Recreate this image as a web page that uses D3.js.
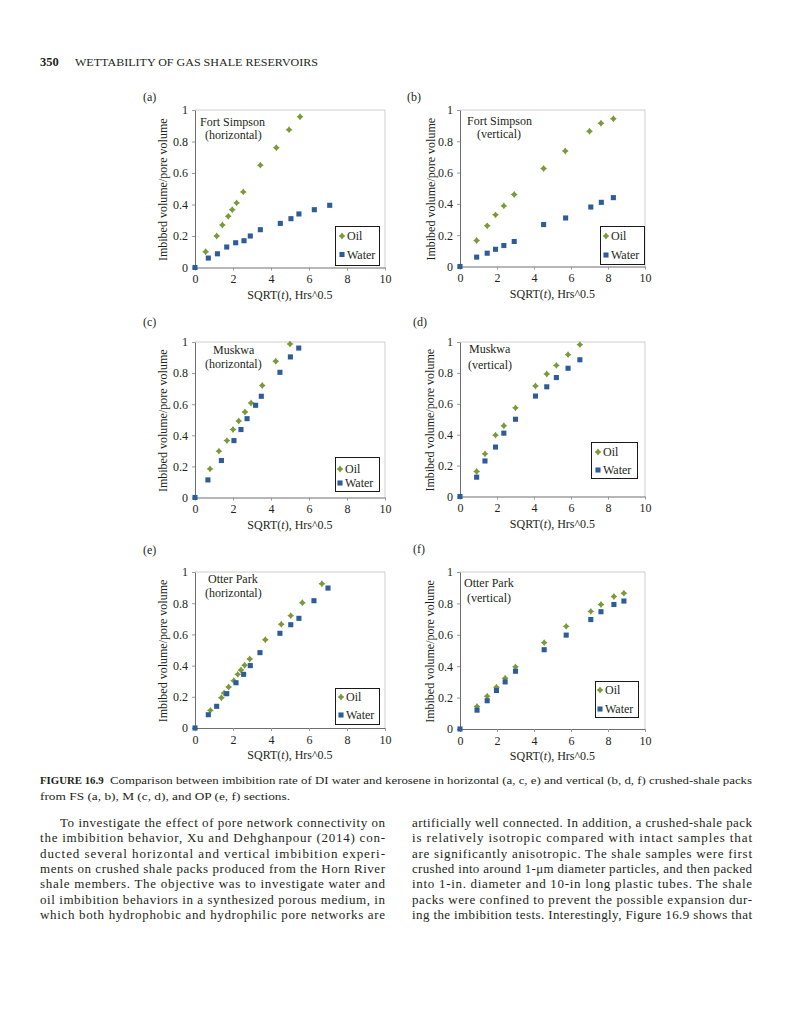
<!DOCTYPE html>
<html><head><meta charset="utf-8">
<script src="https://cdn.jsdelivr.net/npm/d3@7"></script>
<style>
body{margin:0;background:#fff}
svg{display:block}
text{font-family:"Liberation Serif","Times New Roman",serif;fill:#231f20}
</style>
</head><body>
<svg id="c" width="791" height="1024"></svg>
<script>
// ---------- data ----------
const xTicks=[0,2,4,6,8,10];
const yTicks=[0,0.2,0.4,0.6,0.8,1];
const yTickLabels=["0","0.2","0.4","0.6","0.8","1"];
const seriesNames=["Oil","Water"];
const panelLabels=["(a)","(b)","(c)","(d)","(e)","(f)"];
const sectionNames=["Fort Simpson","Fort Simpson","Muskwa","Muskwa","Otter Park","Otter Park"];
const orientations=["(horizontal)","(vertical)","(horizontal)","(vertical)","(horizontal)","(vertical)"];
const yTitle="Imbibed volume/pore volume";

// (a) Fort Simpson horizontal
const fsHOilT=[0.56,1.14,1.44,1.75,1.96,2.19,2.54,3.44,4.28,4.95,5.53];
const fsHOilV=[0.10,0.20,0.27,0.325,0.367,0.41,0.48,0.65,0.76,0.875,0.957];
const fsHWaterT=[0,0.70,1.18,1.67,2.14,2.58,2.91,3.44,4.49,5.05,5.47,6.28,7.09];
const fsHWaterV=[0,0.06,0.087,0.13,0.157,0.17,0.20,0.24,0.28,0.31,0.34,0.367,0.395];
// (b) Fort Simpson vertical
const fsVOilT=[0.9,1.47,1.92,2.37,2.93,4.52,5.69,7.0,7.62,8.29];
const fsVOilV=[0.166,0.26,0.33,0.387,0.46,0.626,0.738,0.864,0.915,0.944];
const fsVWaterT=[0,0.9,1.47,1.92,2.37,2.93,4.52,5.71,7.07,7.64,8.29];
const fsVWaterV=[0,0.06,0.085,0.11,0.134,0.16,0.268,0.31,0.38,0.41,0.44];
// (c) Muskwa horizontal
const mHOilT=[0.79,1.26,1.68,2.0,2.3,2.63,2.95,3.54,4.25,5.0];
const mHOilV=[0.184,0.298,0.366,0.437,0.492,0.55,0.608,0.72,0.876,0.987];
const mHWaterT=[0,0.68,1.39,2.05,2.42,2.74,3.19,3.49,4.47,5.02,5.46];
const mHWaterV=[0,0.113,0.238,0.366,0.437,0.507,0.593,0.651,0.805,0.904,0.961];
// (d) Muskwa vertical
const mVOilT=[0.9,1.35,1.92,2.37,3.0,4.08,4.69,5.21,5.84,6.48];
const mVOilV=[0.162,0.276,0.397,0.458,0.574,0.715,0.793,0.849,0.918,0.983];
const mVWaterT=[0,0.9,1.35,1.92,2.37,3.0,4.08,4.69,5.21,5.84,6.48];
const mVWaterV=[0,0.125,0.23,0.32,0.41,0.50,0.65,0.71,0.77,0.83,0.885];
// (e) Otter Park horizontal
const opHOilT=[0.81,1.39,1.53,1.77,2.04,2.25,2.42,2.61,2.88,3.7,4.54,5.04,5.65,6.68];
const opHOilV=[0.113,0.194,0.224,0.263,0.303,0.344,0.372,0.402,0.442,0.566,0.665,0.72,0.803,0.925];
const opHWaterT=[0,0.70,1.14,1.67,2.16,2.56,2.91,3.42,4.47,5.04,5.47,6.26,7.0];
const opHWaterV=[0,0.085,0.139,0.22,0.29,0.344,0.40,0.483,0.607,0.662,0.703,0.816,0.897];
// (f) Otter Park vertical
const opVOilT=[0.92,1.47,1.97,2.44,3.0,4.55,5.74,7.07,7.62,8.32,8.86];
const opVOilV=[0.143,0.209,0.266,0.323,0.396,0.55,0.654,0.749,0.793,0.844,0.865];
const opVWaterT=[0,0.92,1.47,1.97,2.44,3.0,4.55,5.74,7.07,7.62,8.32,8.86];
const opVWaterV=[0,0.12,0.18,0.245,0.30,0.368,0.505,0.598,0.697,0.747,0.793,0.815];

const headerNum="350";
const headerTitle="WETTABILITY OF GAS SHALE RESERVOIRS";
const captionBold="FIGURE 16.9";
const captionLine1="Comparison between imbibition rate of DI water and kerosene in horizontal (a, c, e) and vertical (b, d, f) crushed-shale packs";
const captionLine2="from FS (a, b), M (c, d), and OP (e, f) sections.";
const bodyLeft=[
"To investigate the effect of pore network connectivity on",
"the imbibition behavior, Xu and Dehghanpour (2014) con-",
"ducted several horizontal and vertical imbibition experi-",
"ments on crushed shale packs produced from the Horn River",
"shale members. The objective was to investigate water and",
"oil imbibition behaviors in a synthesized porous medium, in",
"which both hydrophobic and hydrophilic pore networks are"];
const bodyRight=[
"artificially well connected. In addition, a crushed-shale pack",
"is relatively isotropic compared with intact samples that",
"are significantly anisotropic. The shale samples were first",
"crushed into around 1-\u03bcm diameter particles, and then packed",
"into 1-in. diameter and 10-in long plastic tubes. The shale",
"packs were confined to prevent the possible expansion dur-",
"ing the imbibition tests. Interestingly, Figure 16.9 shows that"];

// ---------- layout ----------
const seriesData=[
 [[fsHOilT,fsHOilV],[fsHWaterT,fsHWaterV]],
 [[fsVOilT,fsVOilV],[fsVWaterT,fsVWaterV]],
 [[mHOilT,mHOilV],[mHWaterT,mHWaterV]],
 [[mVOilT,mVOilV],[mVWaterT,mVWaterV]],
 [[opHOilT,opHOilV],[opHWaterT,opHWaterV]],
 [[opVOilT,opVOilV],[opVWaterT,opVWaterV]]
];
const layout=[
 {x0:195,x1:385,yT:110,yB:267.5,lab:[143,101],ann:[[200,126],[205,139]],leg:[335,226,44,39],oy:236,wy:254.5,mx:342,tx:347,ytx:163},
 {x0:460,x1:645,yT:110,yB:266.5,lab:[407,101],ann:[[467,125],[477,138]],leg:[600,226,44,38],oy:236,wy:255,mx:606,tx:611,ytx:431},
 {x0:195,x1:385,yT:342,yB:497.5,lab:[143,326],ann:[[213,354],[205,368]],leg:[335,457,44,34],oy:469,wy:483,mx:340,tx:345,ytx:163},
 {x0:460,x1:645,yT:342,yB:496.5,lab:[413,326],ann:[[469,353],[468,369]],leg:[591,442,46,36],oy:452,wy:470,mx:598,tx:603,ytx:430},
 {x0:195,x1:385,yT:572,yB:728,lab:[143,554],ann:[[208,583],[205,597]],leg:[335,688,44,36],oy:697,wy:715,mx:341,tx:346,ytx:163},
 {x0:460,x1:645,yT:572,yB:729,lab:[413,553],ann:[[464,587],[467,602]],leg:[595,681,43,36],oy:690,wy:709,mx:600,tx:605,ytx:430}
];
const colors={Oil:"#7a9a3a",Water:"#2d5c9a"};

const star4={draw(ctx,size){const r=Math.sqrt(size)*0.7,k=r*0.42;
 ctx.moveTo(0,-r);ctx.lineTo(k,-k);ctx.lineTo(r,0);ctx.lineTo(k,k);ctx.lineTo(0,r);ctx.lineTo(-k,k);ctx.lineTo(-r,0);ctx.lineTo(-k,-k);ctx.closePath();}};
const symOil=d3.symbol().type(star4).size(24);
const symWater=d3.symbol().type(d3.symbolSquare).size(26);
const syms=[symOil,symWater];

const svg=d3.select("#c");

// header
svg.append("text").attr("x",40).attr("y",66).attr("font-size",12.5).attr("font-weight","bold").text(headerNum);
svg.append("text").attr("x",75).attr("y",66).attr("font-size",9.5).attr("textLength",243).attr("lengthAdjust","spacingAndGlyphs").text(headerTitle);

layout.forEach((L,i)=>{
 const g=svg.append("g");
 const x=d3.scaleLinear().domain([0,10]).range([L.x0,L.x1]);
 const y=d3.scaleLinear().domain([0,1]).range([L.yB,L.yT]);
 g.append("path").attr("d",`M${L.x0},${L.yT}H${L.x1}V${L.yB}`).attr("fill","none").attr("stroke","#cfcfcf").attr("stroke-width",1);
 const xa=g.append("g").attr("transform",`translate(0,${L.yB})`)
   .call(d3.axisBottom(x).tickValues(xTicks).tickSize(3).tickSizeOuter(0).tickPadding(4));
 const ya=g.append("g").attr("transform",`translate(${L.x0},0)`)
   .call(d3.axisLeft(y).tickValues(yTicks).tickFormat((d,j)=>yTickLabels[j]).tickSize(3).tickSizeOuter(0).tickPadding(4));
 [xa,ya].forEach(a=>{
   a.selectAll("text").attr("font-size",12).attr("font-family","Liberation Serif").attr("fill","#231f20");
   a.select(".domain").attr("stroke","#6e6e6e");
   a.selectAll(".tick line").attr("stroke","#9a9a9a");
 });
 g.append("text").attr("x",(L.x0+L.x1)/2).attr("y",L.yB+31).attr("text-anchor","middle").attr("font-size",12)
  .html('SQRT(<tspan font-style="italic">t</tspan>), Hrs^0.5');
 g.append("text").attr("transform",`translate(${L.ytx},${(L.yT+L.yB)/2+1}) rotate(-90)`).attr("text-anchor","middle")
  .attr("dy","0.35em").attr("font-size",12).text(yTitle);
 g.append("text").attr("x",L.lab[0]).attr("y",L.lab[1]).attr("font-size",12).text(panelLabels[i]);
 g.append("text").attr("x",L.ann[0][0]).attr("y",L.ann[0][1]).attr("font-size",12).text(sectionNames[i]);
 g.append("text").attr("x",L.ann[1][0]).attr("y",L.ann[1][1]).attr("font-size",12).text(orientations[i]);
 seriesData[i].forEach((s,k)=>{
   const pts=s[0].map((t,j)=>[t,s[1][j]]);
   g.append("g").selectAll("path").data(pts).join("path")
    .attr("d",syms[k]).attr("transform",d=>`translate(${x(d[0])},${y(d[1])})`)
    .attr("fill",colors[seriesNames[k]]);
 });
 g.append("rect").attr("x",L.leg[0]+0.5).attr("y",L.leg[1]+0.5).attr("width",L.leg[2]).attr("height",L.leg[3])
  .attr("fill","#fff").attr("stroke","#1a1a1a").attr("stroke-width",1);
 [L.oy,L.wy].forEach((cy,k)=>{
   g.append("path").attr("d",syms[k]).attr("transform",`translate(${L.mx},${cy})`).attr("fill",colors[seriesNames[k]]);
   g.append("text").attr("x",L.tx).attr("y",cy).attr("dy","0.35em").attr("font-size",12).text(seriesNames[k]);
 });
});

// caption
svg.append("text").attr("x",40).attr("y",784).attr("font-size",10.8).attr("font-weight","bold").text(captionBold);
svg.append("text").attr("x",110).attr("y",784).attr("font-size",10.8).attr("textLength",642).attr("lengthAdjust","spacingAndGlyphs").text(captionLine1);
svg.append("text").attr("x",40).attr("y",800).attr("font-size",10.8).attr("textLength",250).attr("lengthAdjust","spacingAndGlyphs").text(captionLine2);

// body
bodyLeft.forEach((t,i)=>{
 const x0=i===0?60:40;
 svg.append("text").attr("x",x0).attr("y",827+i*15.33).attr("font-size",13)
  .attr("textLength",385-x0).attr("lengthAdjust","spacing").text(t);
});
bodyRight.forEach((t,i)=>{
 svg.append("text").attr("x",412).attr("y",827+i*15.33).attr("font-size",13)
  .attr("textLength",340).attr("lengthAdjust","spacing").text(t);
});
</script>
</body></html>
